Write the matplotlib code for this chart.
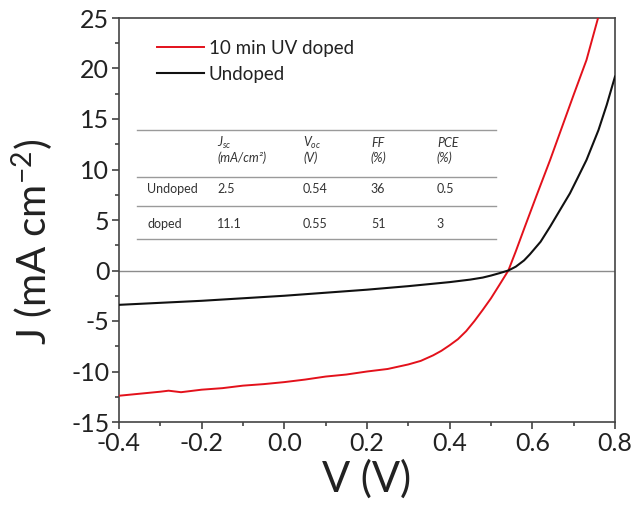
import matplotlib
matplotlib.use("Agg")
import matplotlib.pyplot as plt

FONT = "Lato"
plt.rcParams["font.family"] = [FONT, "DejaVu Sans"]
plt.rcParams["mathtext.fontset"] = "custom"
plt.rcParams["mathtext.rm"] = FONT
plt.rcParams["mathtext.it"] = FONT + ":italic"
plt.rcParams["mathtext.bf"] = FONT + ":bold"
plt.rcParams["axes.unicode_minus"] = False

# J-V curves (V in volts, J in mA cm^-2)
v_doped = [-0.40, -0.35, -0.30, -0.28, -0.25, -0.20, -0.15, -0.10, -0.05, 0.00,
           0.05, 0.10, 0.15, 0.20, 0.25, 0.30, 0.33, 0.36, 0.38, 0.40, 0.42, 0.44,
           0.46, 0.48, 0.50, 0.52, 0.542, 0.56, 0.582, 0.61, 0.643, 0.67, 0.70,
           0.731, 0.759]
j_doped = [-12.4, -12.2, -12.0, -11.9, -12.05, -11.8, -11.65, -11.4, -11.25, -11.05,
           -10.8, -10.5, -10.3, -10.0, -9.75, -9.3, -8.95, -8.4, -7.95, -7.4, -6.8, -6.0,
           -5.0, -3.9, -2.75, -1.45, 0.0, 1.9, 4.34, 7.4, 10.94, 14.0, 17.4,
           20.84, 25.0]

v_undoped = [-0.40, -0.30, -0.20, -0.10, 0.00, 0.10, 0.20, 0.30, 0.40, 0.45,
             0.48, 0.50, 0.52, 0.542, 0.56, 0.58, 0.594, 0.62, 0.643, 0.67, 0.691,
             0.71, 0.731, 0.76, 0.78, 0.80]
j_undoped = [-3.4, -3.2, -3.0, -2.75, -2.5, -2.2, -1.9, -1.55, -1.15, -0.9,
             -0.7, -0.5, -0.27, 0.0, 0.38, 1.0, 1.6, 2.85, 4.34, 6.2, 7.64,
             9.2, 10.94, 13.9, 16.4, 19.2]

series_labels = ["10 min UV doped", "Undoped"]
series_colors = ["#e3111b", "#111111"]

# Device parameter table
table_header_top = [r"$\mathit{J}_{\mathit{sc}}$", r"$\mathit{V}_{\mathit{oc}}$", "FF", "PCE"]
table_header_unit = ["(mA/cm²)", "(V)", "(%)", "(%)"]
table_rows = ["Undoped", "doped"]
table_values = [["2.5", "0.54", "36", "0.5"],
                ["11.1", "0.55", "51", "3"]]

x_ticks = [-0.4, -0.2, 0.0, 0.2, 0.4, 0.6, 0.8]
x_ticklabels = ["-0.4", "-0.2", "0.0", "0.2", "0.4", "0.6", "0.8"]
y_ticks = [-15, -10, -5, 0, 5, 10, 15, 20, 25]

fig = plt.figure(figsize=(6.37, 5.11), dpi=100)
ax = fig.add_axes([119 / 637, 1 - 422 / 511, 496 / 637, 404 / 511])

ax.axhline(0, color="#8c8c8c", lw=1.0, zorder=1)
ax.plot(v_doped, j_doped, color=series_colors[0], lw=1.4, label=series_labels[0], zorder=3)
ax.plot(v_undoped, j_undoped, color=series_colors[1], lw=1.5, label=series_labels[1], zorder=3)

ax.set_xlim(-0.4, 0.8)
ax.set_ylim(-15, 25)
ax.set_xticks(x_ticks)
ax.set_xticklabels(x_ticklabels)
ax.set_yticks(y_ticks)
ax.set_xticks([-0.3, -0.1, 0.1, 0.3, 0.5, 0.7], minor=True)
ax.set_yticks([-12.5, -7.5, -2.5, 2.5, 7.5, 12.5, 17.5, 22.5], minor=True)
ax.tick_params(which="both", direction="out", color="#333333", width=1.1,
               top=False, right=False, labelsize=18, labelcolor="#222222", pad=2)
ax.tick_params(which="major", length=5)
ax.tick_params(which="minor", length=3)
for s in ax.spines.values():
    s.set_color("#444444")
    s.set_linewidth(1.2)

ax.set_xlabel("V (V)", fontsize=30, color="#222222", labelpad=3)
ax.set_ylabel(r"J (mA cm$^{-2}$)", fontsize=29, color="#222222")
ax.yaxis.set_label_coords(-0.128, 0.445)

leg = ax.legend(loc="upper left", bbox_to_anchor=(0.062, 0.965), frameon=False,
                fontsize=13.5, handlelength=2.5, handletextpad=0.25, labelspacing=0.5,
                borderaxespad=0)
for t in leg.get_texts():
    t.set_color("#222222")

# Table drawn in axes coordinates
tr = ax.transAxes
line_kw = dict(transform=tr, color="#9a9a9a", lw=1.0, clip_on=False)
for yl in [0.7228, 0.6064, 0.5347, 0.4530]:
    ax.plot([0.0363, 0.760], [yl, yl], **line_kw)

col_x = [0.1976, 0.371, 0.508, 0.641]
txt_kw = dict(transform=tr, color="#333333", va="center", ha="left")
for cx, top, unit in zip(col_x, table_header_top, table_header_unit):
    ax.text(cx, 0.690, top, fontsize=9, style="italic", **txt_kw)
    ax.text(cx, 0.653, unit, fontsize=9, style="italic", **txt_kw)
for ry, name, vals in zip([0.5767, 0.4901], table_rows, table_values):
    ax.text(0.0565, ry, name, fontsize=9, **txt_kw)
    for cx, v in zip(col_x, vals):
        ax.text(cx, ry, v, fontsize=9, **txt_kw)

fig.savefig("out.png", dpi=100, facecolor="white")
